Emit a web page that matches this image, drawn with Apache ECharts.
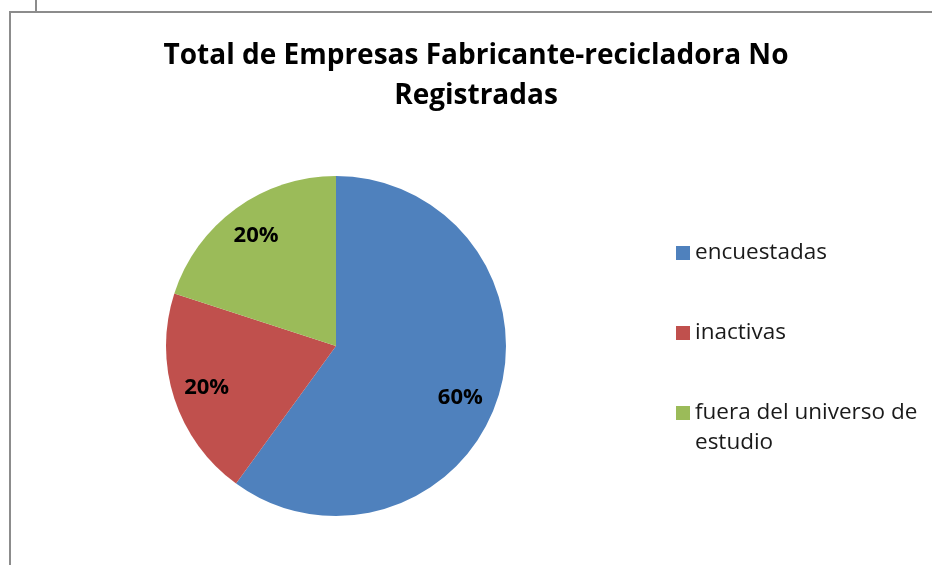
<!DOCTYPE html>
<html><head><meta charset="utf-8">
<script src="https://cdn.jsdelivr.net/npm/echarts@6/dist/echarts.min.js"></script>
<style>html,body{margin:0;padding:0;background:#fff}#c{width:932px;height:565px}</style>
</head><body><div id="c"></div>
<script>
const categories = ['encuestadas', 'inactivas', 'fuera del universo de estudio'];
const values = [60, 20, 20];
const colors = ['#4F81BD', '#C0504D', '#9BBB59'];
const titleText = 'Total de Empresas Fabricante-recicladora No\nRegistradas';

const chart = echarts.init(document.getElementById('c'), null, {renderer: 'canvas'});
const data = categories.map((n, i) => ({name: n, value: values[i], itemStyle: {color: colors[i]}}));
const font = '"Open Sans", sans-serif';
chart.setOption({
  animation: false,
  backgroundColor: '#fff',
  title: {
    text: titleText, left: 476, top: 36, textAlign: 'center', padding: 0,
    textStyle: {fontFamily: font, fontWeight: 'bold', fontSize: 28, lineHeight: 40, color: '#000'}
  },
  legend: {
    orient: 'vertical', left: 676, top: 208, padding: 0,
    itemWidth: 14, itemHeight: 14, itemGap: 20, icon: 'rect',
    // blank lines keep the swatch on the first line of the wrapped entry
    formatter: function (name) {
      const i = categories.indexOf(name);
      if (i === 0) return '\u00a0\n' + name + '\n\u00a0';
      if (i === categories.length - 1) return '\u00a0\n' + name;
      return name;
    },
    textStyle: {fontFamily: font, fontSize: 22.5, lineHeight: 30, color: '#1a1a1a', width: 235, overflow: 'break'},
    data: categories
  },
  graphic: [
    {type: 'line', shape: {x1: 10, y1: 12, x2: 932, y2: 12}, style: {stroke: '#8c8c8c', lineWidth: 2}, silent: true},
    {type: 'line', shape: {x1: 10, y1: 11, x2: 10, y2: 565}, style: {stroke: '#8c8c8c', lineWidth: 2}, silent: true},
    {type: 'line', shape: {x1: 36, y1: 0, x2: 36, y2: 11}, style: {stroke: '#8c8c8c', lineWidth: 2}, silent: true}
  ],
  series: [
    {
      type: 'pie', center: [336, 346], radius: [0, 170], startAngle: 90, clockwise: true,
      label: {show: false}, labelLine: {show: false}, data: data, silent: true
    },
    {
      type: 'pie', center: [336, 346], radius: [96, 170], startAngle: 90, clockwise: true,
      silent: true, legendHoverLink: false,
      itemStyle: {color: 'rgba(0,0,0,0)'},
      label: {show: true, position: 'inside', formatter: '{d}%', color: '#000',
        fontFamily: font, fontWeight: 'bold', fontSize: 22},
      labelLine: {show: false},
      data: categories.map((n, i) => ({name: n, value: values[i],
        label: i === 0 ? {offset: [-5, 10]} : {}}))
    }
  ]
});
</script></body></html>
